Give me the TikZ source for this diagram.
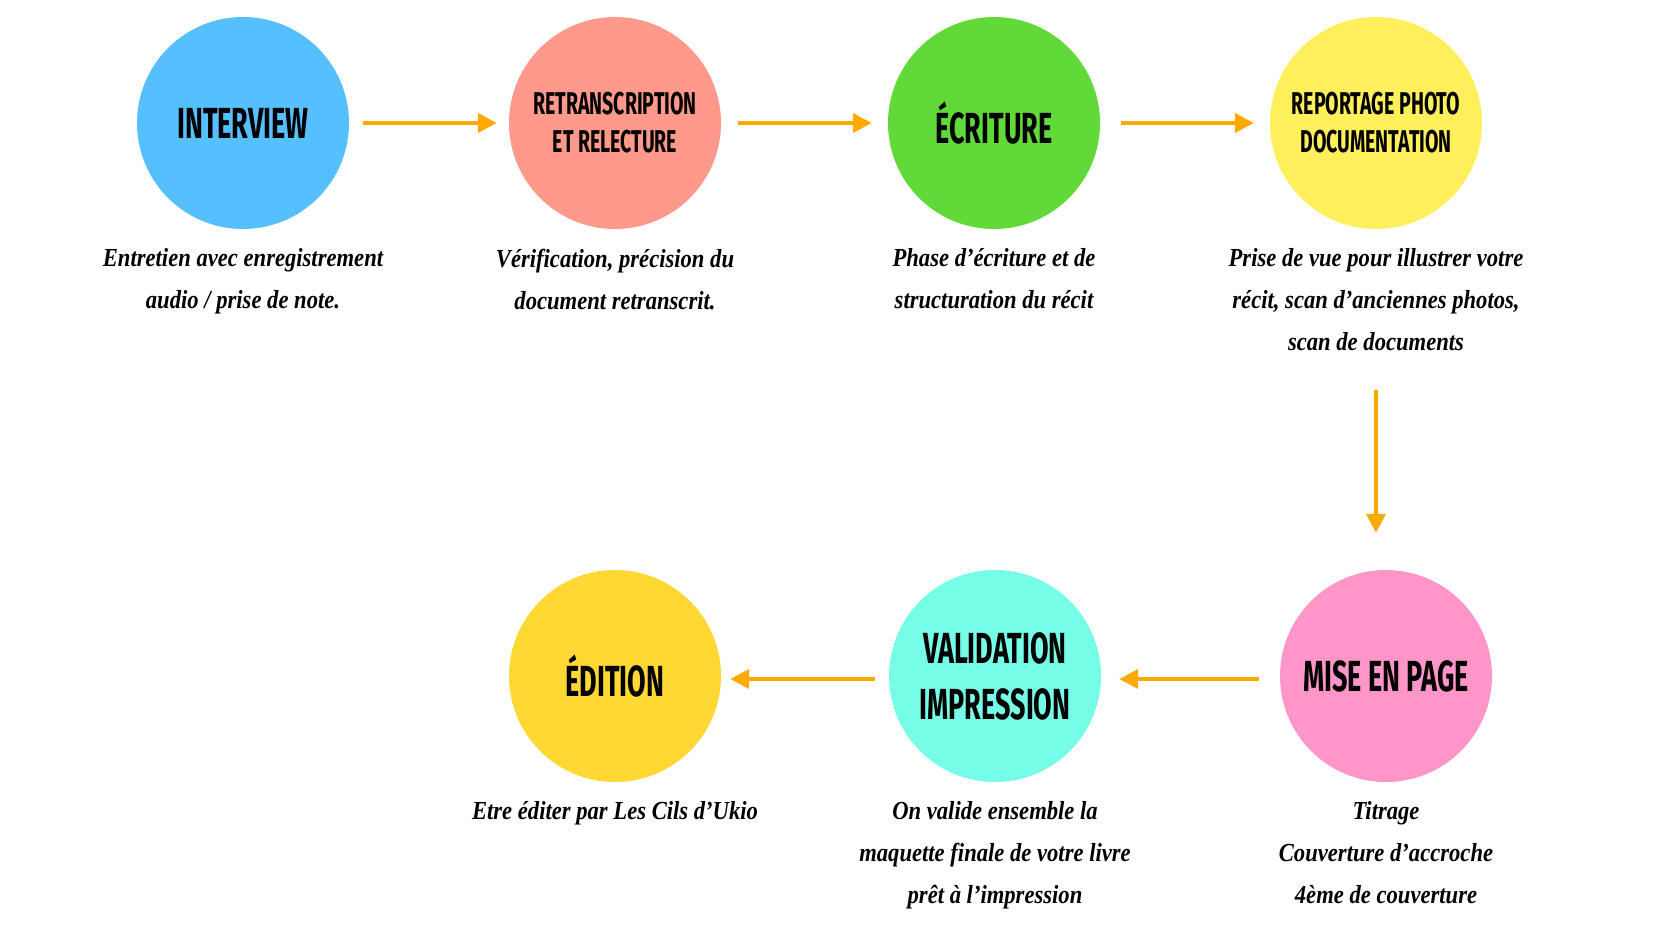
\documentclass[tikz,border=0pt]{standalone}
\usepackage{fontspec}
\usetikzlibrary{arrows.meta,positioning}
\newfontfamily\titlefont{Fira Sans}[FakeStretch=0.62]
\newfontfamily\descfont{Liberation Serif}[FakeStretch=0.87]
\definecolor{stageblue}{RGB}{86,192,255}
\definecolor{stagesalmon}{RGB}{255,153,140}
\definecolor{stagegreen}{RGB}{97,217,56}
\definecolor{stageyellow}{RGB}{255,239,90}
\definecolor{stagegold}{RGB}{255,216,52}
\definecolor{stageaqua}{RGB}{117,253,232}
\definecolor{stagepink}{RGB}{255,149,201}
\definecolor{floworange}{RGB}{255,170,0}
\tikzset{
  stage/.style={circle, minimum size=212pt, inner sep=0pt, align=center,
                font=\titlefont\bfseries\fontsize{43.5}{56}\selectfont},
  stagesmall/.style={stage, font=\titlefont\bfseries\fontsize{31.5}{38}\selectfont},
  stagedesc/.style={align=center, inner sep=0pt,
                    font=\descfont\bfseries\itshape\fontsize{26}{42}\selectfont},
  flow/.style={-{Triangle[length=19pt,width=19pt]}, line width=4pt, floworange},
}
\begin{document}
\begin{tikzpicture}[x=1pt, y=-1pt, node distance=19.5pt]
  \fill[white] (0,0) rectangle (1680,945);
  \useasboundingbox (0,0) rectangle (1680,945);
  % top row
  \node[stage, fill=stageblue] (interview) at (243,123) {INTERVIEW};
  \node[stagesmall, fill=stagesalmon] (retrans) at (615,123) {RETRANSCRIPTION\\ET RELECTURE};
  \node[stage, fill=stagegreen] (ecriture) at (994,123) {ÉCRITURE};
  \node[stagesmall, fill=stageyellow] (reportage) at (1376,123) {REPORTAGE PHOTO\\DOCUMENTATION};
  % bottom row
  \node[stage, fill=stagepink] (miseenpage) at (1386,676) {MISE EN PAGE};
  \node[stage, fill=stageaqua] (validation) at (995,676) {VALIDATION\\IMPRESSION};
  \node[stage, fill=stagegold] (edition) at (615,676) {ÉDITION};
  % descriptions
  \node[stagedesc, below=of interview] (interviewtxt) {Entretien avec enregistrement\\audio / prise de note.};
  \node[stagedesc, below=of retrans] (retranstxt) {Vérification, précision du\\document retranscrit.};
  \node[stagedesc, below=of ecriture] (ecrituretxt) {Phase d’écriture et de\\structuration du récit};
  \node[stagedesc, below=of reportage] (reportagetxt) {Prise de vue pour illustrer votre\\récit, scan d’anciennes photos,\\scan de documents};
  \node[stagedesc, below=of miseenpage] (miseenpagetxt) {Titrage\\Couverture d’accroche\\4ème de couverture};
  \node[stagedesc, below=of validation] (validationtxt) {On valide ensemble la\\maquette finale de votre livre\\prêt à l’impression};
  \node[stagedesc, below=of edition] (editiontxt) {Etre éditer par Les Cils d’Ukio};
  % arrows
  \draw[flow, shorten <=14pt, shorten >=12pt] (interview) -- (retrans);
  \draw[flow, shorten <=17pt, shorten >=16pt] (retrans) -- (ecriture);
  \draw[flow, shorten <=21pt, shorten >=16pt] (ecriture) -- (reportage);
  \draw[flow, shorten <=161pt, shorten >=37pt] (reportage.south) -- (reportage.south |- miseenpage.north);
  \draw[flow, shorten <=21pt, shorten >=18pt] ([yshift=-3pt]miseenpage.west) -- ([yshift=-3pt]validation.east);
  \draw[flow, shorten <=14pt, shorten >=9pt] ([yshift=-3pt]validation.west) -- ([yshift=-3pt]edition.east);
\end{tikzpicture}
\end{document}
